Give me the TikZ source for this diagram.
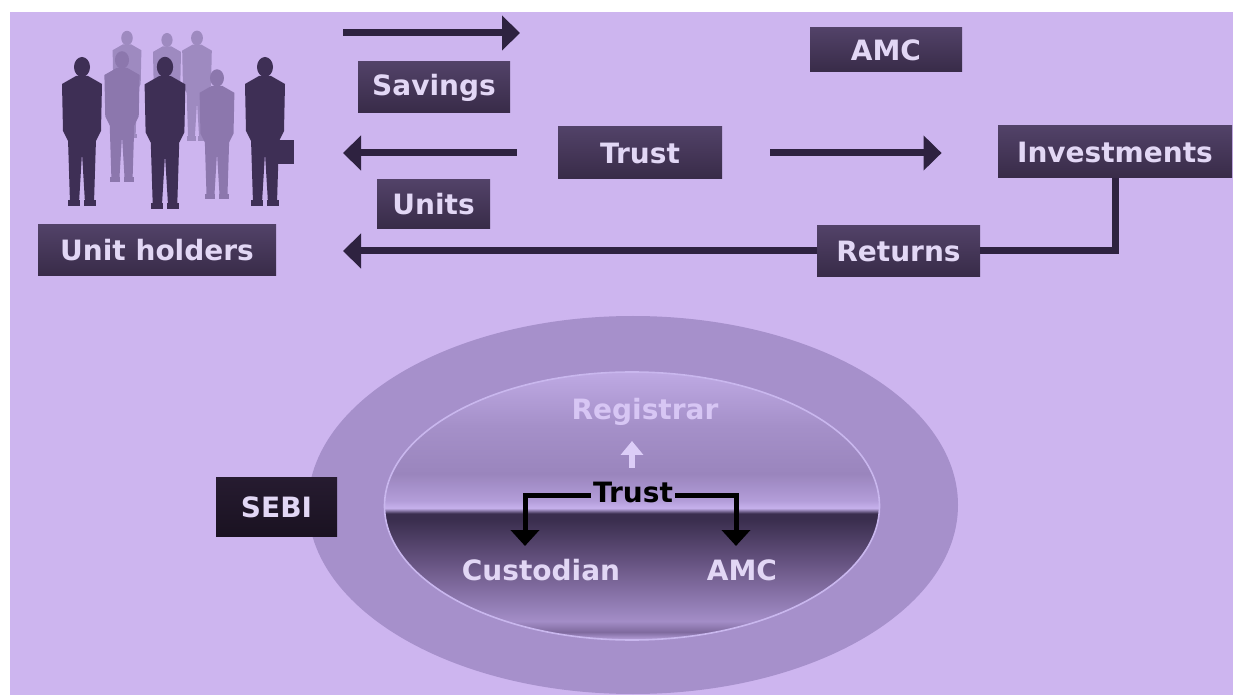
\documentclass[tikz,border=0pt]{standalone}
\usepackage{fontspec}
\setmainfont{DejaVu Sans}
\usetikzlibrary{arrows.meta,shapes.geometric}

\definecolor{bgpurple}{HTML}{CDB5EF}
\definecolor{boxtop}{HTML}{524268}
\definecolor{boxmid}{HTML}{6F5E88}
\definecolor{boxbot}{HTML}{382B48}
\definecolor{boxtext}{HTML}{E2D7F5}
\definecolor{arrowdark}{HTML}{2E2240}
\definecolor{ringfill}{HTML}{A690CB}
\definecolor{coreedge}{HTML}{C9B7EE}
\definecolor{reglight}{HTML}{D7C6F4}
\definecolor{upwhite}{HTML}{DCCDF7}
\definecolor{sebitop}{HTML}{261B30}
\definecolor{sebibot}{HTML}{1A1221}
\definecolor{figdark}{HTML}{3E2F55}
\definecolor{figfade}{HTML}{8C77AD}
\definecolor{figback}{HTML}{9E8AC0}
% glass shading of the inner ellipse
\definecolor{glassA}{HTML}{B8A2DD}
\definecolor{glassB}{HTML}{7F6A9E}
\definecolor{glassC}{HTML}{A38DC7}
\definecolor{glassD}{HTML}{8A75AB}
\definecolor{glassE}{HTML}{64517E}
\definecolor{glassF}{HTML}{3A2E4E}
\definecolor{glassG}{HTML}{C6B1EC}
\definecolor{glassH}{HTML}{B39DD9}
\definecolor{glassI}{HTML}{9A85BD}
\definecolor{glassJ}{HTML}{A590C9}
\definecolor{glassK}{HTML}{BEA9E3}
\pgfdeclareverticalshading{innerglass}{100bp}{color(0bp)=(glassA); color(25bp)=(glassA);
  color(26.5bp)=(glassB); color(28.5bp)=(glassC); color(33bp)=(glassD); color(40bp)=(glassE);
  color(47.5bp)=(glassF); color(48.6bp)=(glassF); color(49.6bp)=(glassG); color(51bp)=(glassH);
  color(56bp)=(glassI); color(65bp)=(glassJ); color(75bp)=(glassK); color(100bp)=(glassK)}

% one standing figure: x, y of head, scale, colour
\newcommand{\walker}[4]{%
  \begin{scope}[shift={(#1,#2)},scale=#3]
    \fill[#4] (0,0) ellipse (8 and 10);
    \fill[#4] (-6,9) -- (6,9) -- (20,17) -- (19,64) -- (14,74) -- (-14,74) -- (-19,64) -- (-20,17) -- cycle;
    \fill[#4] (-14,72) -- (14,72) -- (12,136) -- (3,136) -- (0,86) -- (-3,136) -- (-12,136) -- cycle;
    \fill[#4] (-14,133) rectangle (-2,139);
    \fill[#4] (2,133) rectangle (14,139);
  \end{scope}}

\begin{document}
\begin{tikzpicture}[x=0.5pt,y=-0.5pt,
  boxlabel/.style={rectangle, inner sep=0pt, top color=boxtop, middle color=boxmid, bottom color=boxbot,
    text=boxtext, font=\fontsize{14}{16}\selectfont\bfseries},
  inlabel/.style={inner sep=1pt, text=boxtext, font=\fontsize{14}{16}\selectfont\bfseries},
  flowline/.style={draw=arrowdark, line width=3.5pt},
  flowarrow/.style={flowline, -{Triangle[length=9pt,width=17pt]}},
  branch/.style={draw=black, line width=2.5pt, -{Triangle[length=8pt,width=14pt]}}]
\useasboundingbox (0,0) rectangle (1233,695);
\fill[white] (0,0) rectangle (1233,695);
\fill[bgpurple] (10,12) rectangle (1233,695);

% crowd of unit holders
\walker{127}{38}{0.72}{figback}
\walker{167}{40}{0.70}{figback}
\walker{197}{38}{0.74}{figback}
\walker{122}{60}{0.88}{figfade}
\walker{217}{78}{0.87}{figfade}
\walker{82}{67}{1.0}{figdark}
\walker{165}{67}{1.02}{figdark}
\walker{265}{67}{1.0}{figdark}
\fill[figdark] (278,140) rectangle (294,164);

% flow of money
\node[boxlabel, minimum width=119pt, minimum height=25.5pt] (holders) at (157,250.5) {Unit holders};
\node[boxlabel, minimum width=76pt, minimum height=25.5pt] (savings) at (434,87.5) {Savings};
\node[boxlabel, minimum width=56.5pt, minimum height=24.5pt] (units) at (433.5,204.5) {Units};
\node[boxlabel, minimum width=82pt, minimum height=26pt] (trust) at (640,153) {Trust};
\node[boxlabel, minimum width=76pt, minimum height=22pt] (amc) at (886,50) {AMC};
\node[boxlabel, minimum width=117pt, minimum height=26pt] (invest) at (1115,152) {Investments};
\node[boxlabel, minimum width=81.5pt, minimum height=25.5pt] (returns) at (898.5,251) {Returns};

\coordinate (savtail) at (343,33);
\coordinate (savtip) at (520,33);
\coordinate (unittip) at (343,153);
\coordinate (rettip) at (343,251);

\draw[flowarrow] (savtail) -- (savtip);
\draw[flowarrow, shorten <=20.5pt] (trust.west) -- (unittip);
\draw[flowarrow, shorten <=24pt, shorten >=28pt] (trust.east) -- (trust.east -| invest.west);
\draw[flowline] (invest.south) |- (returns.east);
\draw[flowarrow] (returns.west) -- (rettip);

% structure of the fund
\node[ellipse, fill=ringfill, inner sep=0pt, minimum width=325pt, minimum height=189pt] (ring) at (633,505) {};
\node[ellipse, shade, shading=innerglass, draw=coreedge, line width=0.8pt, inner sep=0pt,
  minimum width=247.5pt, minimum height=134pt] (core) at (632,506) {};
\node[boxlabel, top color=sebitop, bottom color=sebibot, minimum width=60.5pt, minimum height=29pt] (sebi) at (276.5,507) {SEBI};

\node[inlabel, text=reglight] (registrar) at (645,412) {Registrar};
\node[inlabel, text=black] (trustin) at (633,492) {Trust};
\node[inlabel] (custodian) at (541,570) {Custodian};
\node[inlabel] (amcin) at (742,570) {AMC};

\coordinate (upfoot) at (632,468);
\coordinate (uptip) at (632,441);
\coordinate (cusend) at (525,546);
\coordinate (amcend) at (736,546);

\draw[draw=upwhite, line width=3pt, -{Triangle[length=7pt,width=11pt]}] (upfoot) -- (uptip);
\draw[branch] ([yshift=-2pt]trustin.west) -| (cusend);
\draw[branch] ([yshift=-2pt]trustin.east) -| (amcend);
\end{tikzpicture}
\end{document}
